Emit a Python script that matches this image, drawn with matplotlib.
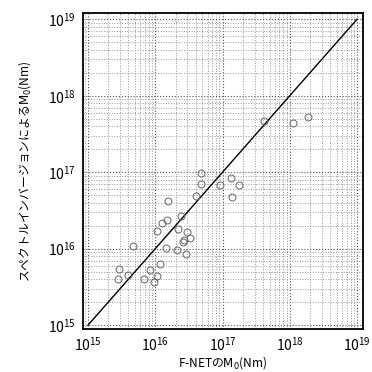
import numpy as np
import matplotlib
matplotlib.use('Agg')
import matplotlib.pyplot as plt
from matplotlib.ticker import LogLocator, NullFormatter

plt.rcParams['font.family'] = ['Noto Sans CJK JP', 'DejaVu Sans']

# log10 of moments
fnet_log = [16.68, 16.68, 16.96, 17.12, 17.24, 17.14, 16.60, 16.19, 16.39, 16.17,
            16.10, 16.02, 16.34, 16.47, 16.51, 16.43, 16.41, 15.67, 16.16, 16.32,
            16.46, 16.07, 15.92, 15.46, 15.59, 15.44, 15.84, 16.02, 15.98,
            17.61, 18.05, 18.27]
inv_log = [16.99, 16.84, 16.83, 16.93, 16.83, 16.68, 16.69, 16.62, 16.43, 16.38,
           16.33, 16.23, 16.26, 16.22, 16.14, 16.11, 16.09, 16.04, 16.01, 15.98,
           15.93, 15.80, 15.72, 15.74, 15.65, 15.61, 15.61, 15.64, 15.56,
           17.67, 17.65, 17.72]

fnet = 10 ** np.array(fnet_log)
inv = 10 ** np.array(inv_log)
diag = [1e15, 1e19]

fig = plt.figure(figsize=(3.72, 3.72), dpi=100)
ax = fig.add_axes([0.223, 0.1156, 0.753, 0.849])

ax.plot(diag, diag, color='black', lw=1.0)
ax.plot(fnet, inv, 'o', mfc='none', mec='#666666', ms=5, mew=0.7)

ax.set_xscale('log')
ax.set_yscale('log')
ax.set_xlim(10 ** 14.925, 10 ** 19.09)
ax.set_ylim(10 ** 14.95, 10 ** 19.08)

ax.xaxis.set_major_locator(LogLocator(base=10, numticks=10))
ax.yaxis.set_major_locator(LogLocator(base=10, numticks=10))
ax.xaxis.set_minor_locator(LogLocator(base=10, subs=np.arange(2, 10), numticks=20))
ax.yaxis.set_minor_locator(LogLocator(base=10, subs=np.arange(2, 10), numticks=20))
ax.xaxis.set_minor_formatter(NullFormatter())
ax.yaxis.set_minor_formatter(NullFormatter())

ax.grid(True, which='major', ls=':', color='#555555', lw=0.8)
ax.grid(True, which='minor', ls=':', color='#999999', lw=0.7)
ax.tick_params(which='both', length=0, labelsize=10, pad=5)

for sp in ax.spines.values():
    sp.set_linewidth(1.3)

ax.set_xlabel('F-NETの$\\mathrm{M}_0$(Nm)', fontsize=8.5, labelpad=0)
ax.set_ylabel('スペクトルインバージョンによる$\\mathrm{M}_0$(Nm)', fontsize=8.5, labelpad=11)

fig.savefig('out.png', dpi=100)
